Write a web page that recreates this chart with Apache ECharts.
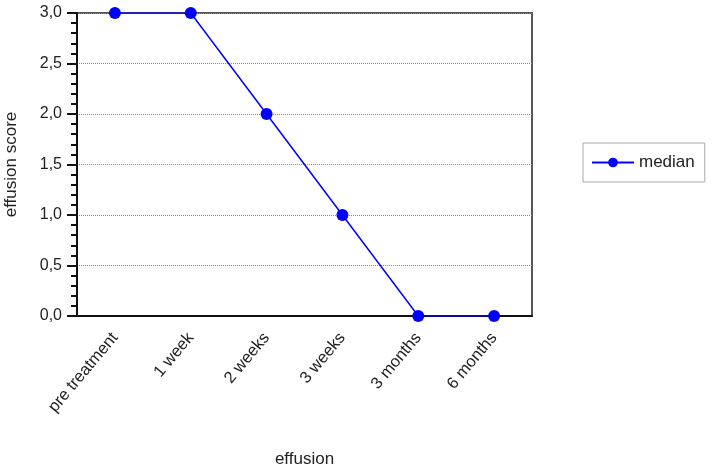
<!DOCTYPE html>
<html>
<head>
<meta charset="utf-8">
<script src="https://cdn.jsdelivr.net/npm/echarts@6/dist/echarts.min.js"></script>
<style>
  html, body { margin: 0; padding: 0; background: #fff; }
  #chart { width: 712px; height: 472px; }
</style>
</head>
<body>
<div id="chart"></div>
<script>
// time points and median effusion score
const categories = ['pre treatment', '1 week', '2 weeks', '3 weeks', '3 months', '6 months']
const median = [3, 3, 2, 1, 0, 0]

const chart = echarts.init(document.getElementById('chart'))
chart.setOption({
  animation: false,
  textStyle: { fontFamily: 'Liberation Sans, Arial, sans-serif' },
  grid: {
    left: 77,
    right: 180,
    top: 13,
    bottom: 156,
    outerBoundsMode: 'none',
    show: true,
    borderColor: '#555',
    borderWidth: 2
  },
  legend: {
    data: ['median'],
    left: 583,
    top: 143,
    orient: 'vertical',
    padding: [11, 10, 11, 8],
    borderColor: '#aaa',
    borderWidth: 1,
    itemWidth: 42,
    itemHeight: 12,
    itemGap: 10,
    textStyle: { fontSize: 17, color: '#222' }
  },
  xAxis: {
    type: 'category',
    data: categories,
    name: 'effusion',
    nameLocation: 'middle',
    nameGap: 135,
    nameTextStyle: { fontSize: 17, color: '#222' },
    axisLine: { lineStyle: { color: '#111', width: 2 } },
    axisTick: { alignWithLabel: true, length: 8, lineStyle: { color: '#111', width: 2 } },
    axisLabel: { rotate: 50, fontSize: 16.5, color: '#222', margin: 19 },
    splitLine: { show: false }
  },
  yAxis: {
    type: 'value',
    min: 0,
    max: 3,
    interval: 0.5,
    name: 'effusion score',
    nameLocation: 'middle',
    nameGap: 57,
    nameTextStyle: { fontSize: 17, color: '#222' },
    axisLine: { show: true, lineStyle: { color: '#111', width: 2 } },
    axisTick: { show: true, length: 10, lineStyle: { color: '#111', width: 2 } },
    minorTick: { show: true, splitNumber: 5, length: 6, lineStyle: { color: '#111', width: 2 } },
    axisLabel: {
      fontSize: 16,
      color: '#222',
      margin: 15,
      formatter: v => v.toFixed(1).replace('.', ',')
    },
    splitLine: { lineStyle: { type: 'dotted', color: '#888', width: 1 } }
  },
  series: [{
    name: 'median',
    type: 'line',
    data: median,
    color: '#0000ff',
    symbol: 'circle',
    symbolSize: 12,
    lineStyle: { width: 1.5, color: '#0000ff' },
    itemStyle: { color: '#0000ff' }
  }]
})
</script>
</body>
</html>
